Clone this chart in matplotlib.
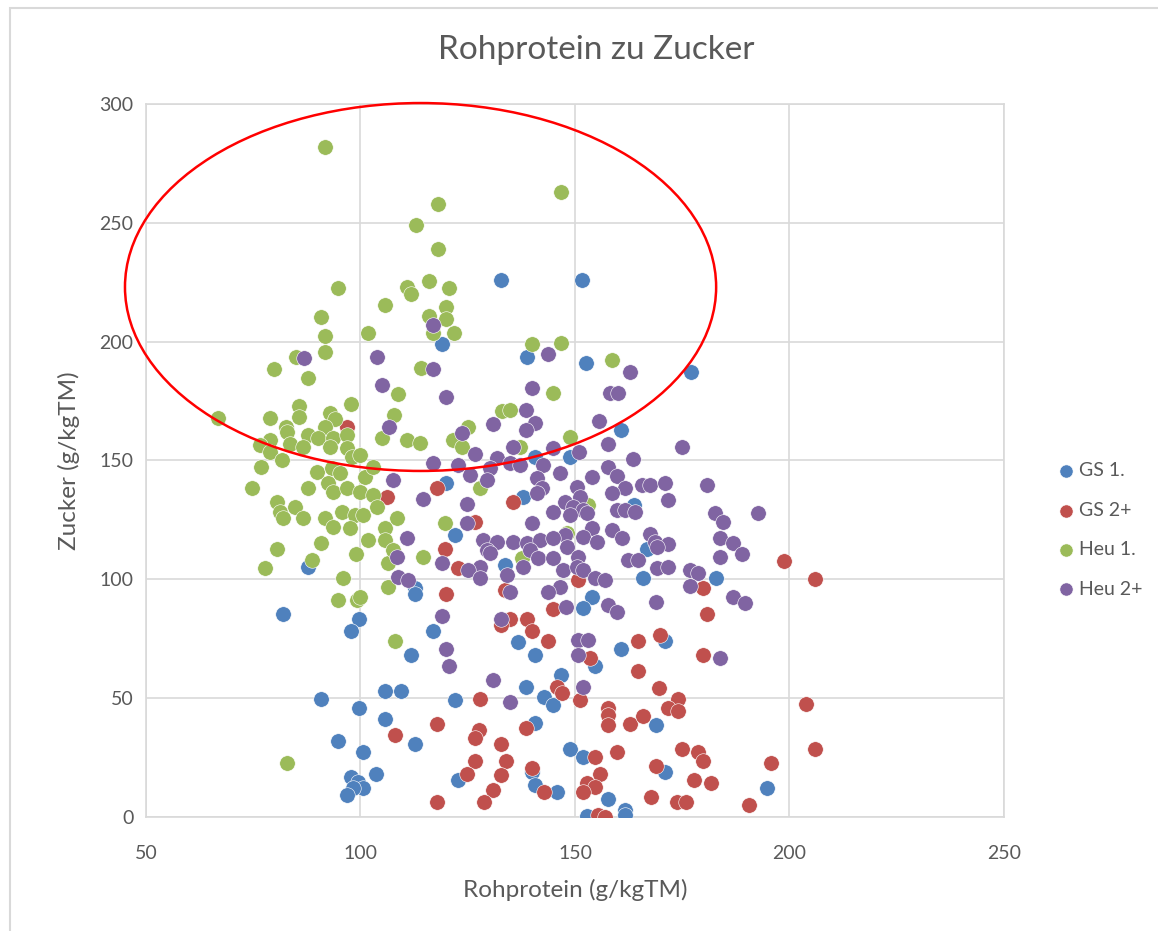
import matplotlib
matplotlib.use("Agg")
import matplotlib.pyplot as plt
from matplotlib.patches import Ellipse, Rectangle

plt.rcParams['font.family'] = ['Lato', 'DejaVu Sans']

# GS 1.
gs1_x = [132.7, 151.6, 119, 138.7, 152.5, 177, 160.7, 140.7, 148.8, 119.9, 137.9, 163.8, 122, 166.8,
         133.7, 165.8, 182.9, 87.8, 112.7, 112.7, 154, 151.9, 81.9, 99.7, 97.8, 116.9, 136.7, 171,
         160.7, 140.7, 111.8, 154.7, 146.7, 138.6, 105.7, 109.5, 90.8, 122, 142.8, 144.9, 99.7, 105.7,
         140.7, 168.9, 94.8, 112.7, 148.8, 100.6, 151.9, 171, 103.6, 97.8, 99.4, 100.6, 98.3, 96.9,
         122.7, 140, 140.7, 145.8, 194.8, 157.7, 152.8, 161.7, 161.7]
gs1_y = [226, 226, 199, 193.5, 191, 187.2, 162.8, 151.5, 151.5, 140.5, 134.6, 131.3, 118.6, 112.7,
         106, 100.5, 100.5, 105.2, 96.3, 93.8, 92.6, 87.9, 85.4, 83.3, 78.3, 78.3, 73.6, 74,
         70.7, 68.2, 68.2, 63.5, 59.7, 54.7, 53, 53.2, 49.6, 49.2, 50.5, 47.1, 45.9, 41.2,
         39.5, 38.7, 32, 30.7, 28.6, 27.3, 25.2, 18.9, 18.1, 16.8, 14.7, 12.2, 12.2, 9.3,
         15.6, 18.9, 13.5, 10.5, 12.2, 7.6, 0.4, 2.9, 1]

# GS 2+
gs2_x = [96.9, 106.2, 117.8, 135.5, 126.7, 119.7, 122.7, 150.7, 198.7, 179.8, 206, 119.9, 133.7, 144.9,
         134.8, 132.7, 138.8, 140, 143.7, 180.8, 169.8, 164.7, 179.8, 153.5, 164.7, 169.6, 145.8, 147,
         151.2, 127.9, 157.7, 157.7, 157.7, 162.8, 165.8, 174, 171.7, 174, 203.8, 117.8, 138.6, 108,
         127.6, 126.7, 132.7, 126.7, 133.9, 124.8, 132.7, 140, 142.8, 130.9, 128.8, 117.8, 159.8, 154.7,
         174.9, 178.7, 179.8, 168.9, 195.7, 155.8, 152.8, 154.7, 151.9, 177.7, 181.7, 167.7, 173.8, 175.9,
         190.6, 155.4, 157, 205.9]
gs2_y = [164, 134.6, 138.4, 132.5, 124.1, 112.7, 104.8, 99.7, 107.7, 96.3, 100, 93.8, 95.5, 87.5,
         83.3, 80.8, 83.3, 78.3, 74, 85.4, 76.6, 74, 68.2, 66.9, 61.4, 54.3, 54.7, 52.2,
         49.2, 49.6, 45.9, 42.9, 38.7, 39.1, 42.5, 49.6, 45.9, 44.6, 47.5, 39.1, 37.4, 34.5,
         36.6, 33.2, 30.7, 23.6, 23.6, 18.1, 17.7, 20.6, 10.5, 11.4, 6.3, 6.3, 27.3, 25.2,
         28.6, 27.3, 23.6, 21.5, 22.7, 18.1, 14.3, 12.6, 10.5, 15.6, 14.3, 8.4, 6.3, 6.3,
         5, 0.8, 0, 28.5]

# Heu 1.
heu1_x = [91.7, 146.7, 118, 113, 118, 116, 94.8, 110.8, 111.8, 120.6, 105.7, 120, 116, 120,
          90.8, 117, 121.8, 91.7, 101.7, 140, 146.7, 91.7, 85, 158.6, 114.1, 79.8, 87.8, 108.7,
          144.9, 97.8, 85.7, 133, 134.8, 92.9, 107.8, 66.8, 78.9, 85.7, 94, 125.1, 82.6, 82.9,
          87.8, 91.7, 90, 93.6, 96.9, 105, 110.8, 113.9, 121.6, 123.7, 148.8, 137.2, 78.9, 76.6,
          83.6, 86.6, 92.9, 96.9, 78.9, 81.7, 98, 99.9, 76.8, 89.9, 93.4, 95.2, 101, 102.9,
          74.7, 87.8, 92.4, 93.6, 96.9, 99.9, 102.9, 127.9, 103.8, 80.5, 84.7, 81.2, 81.9, 86.6,
          95.7, 98.7, 100.6, 91.7, 93.6, 97.6, 105.7, 108.5, 153, 119.7, 101.7, 105.7, 90.8, 80.5,
          99, 114.6, 137.6, 88.7, 77.7, 106.4, 95.9, 106.4, 94.8, 99.2, 99.9, 108, 82.9, 148.1,
          107.6]
heu1_y = [281.9, 263, 258, 249, 239, 225.5, 222.5, 223, 220, 222.5, 215.4, 214.5, 210.8, 209.5,
          210.4, 203.6, 203.6, 202.4, 203.6, 199, 199.5, 195.6, 193.5, 192.3, 188.9, 188.5, 184.7, 177.9,
          178.4, 173.7, 172.9, 170.8, 171.2, 170, 169.1, 167.9, 167.9, 168.3, 167.4, 164, 164, 162,
          160.7, 164, 159.4, 159.4, 160.7, 159.4, 158.6, 157.3, 158.6, 155.7, 159.9, 155.7, 158.6, 156.5,
          156.9, 155.7, 155.7, 155.2, 153.6, 150.2, 151.5, 152.3, 147.2, 145.1, 146.8, 144.7, 143, 147.2,
          138.4, 138.4, 140.5, 136.7, 138.4, 136.7, 135.5, 138.4, 130.4, 132.5, 130.4, 128.3, 125.8, 125.8,
          128.3, 127, 127, 125.8, 122, 121.6, 121.6, 125.8, 131.3, 123.7, 116.5, 116.5, 115.3, 112.7,
          110.6, 109.4, 109, 108.1, 104.8, 106.9, 100.5, 96.8, 91.3, 91.3, 92.6, 74, 22.7, 119.5,
          112.3]

# Heu 2+
heu2_x = [117, 86.8, 103.8, 143.7, 116.9, 162.8, 105, 140, 119.9, 158.2, 160, 138.6, 155.6, 106.6,
          130.9, 140.7, 138.6, 123.7, 157.7, 174.9, 135.5, 144.9, 150.9, 126.7, 131.8, 163.5, 116.9, 122.7,
          130.2, 134.8, 137.2, 142.5, 157.7, 146.5, 125.5, 154, 159.8, 107.6, 129.5, 141.1, 142.3, 150.5,
          161.7, 165.6, 167.5, 171, 180.8, 158.6, 141.1, 114.6, 171.7, 151.2, 124.8, 147.7, 149.5, 151.9,
          144.9, 148.8, 152.8, 159.8, 161.7, 164, 182.6, 192.7, 184.5, 124.8, 140, 154, 158.6, 147.7,
          110.8, 128.6, 131.8, 135.5, 138.8, 141.8, 144.9, 151.9, 160.9, 155.1, 167.5, 168.6, 171.7, 183.8,
          186.8, 129.5, 130.2, 139.5, 148.1, 169.1, 188.9, 108.5, 141.4, 144.9, 150.7, 183.8, 162.4, 164.7,
          119, 137.9, 127.9, 125.1, 147.2, 150.5, 151.9, 169.1, 171.7, 176.8, 178.7, 134.1, 127.9, 108.7,
          111.1, 154.7, 157, 146.5, 176.8, 134.8, 143.7, 186.8, 189.6, 157.7, 159.8, 168.9, 147.9, 119,
          132.7, 119.9, 120.6, 150.7, 153, 150.7, 183.8, 130.9, 151.9, 134.8]
heu2_y = [207, 193, 193.5, 194.8, 188.5, 187.2, 181.7, 180.5, 176.7, 178.4, 178.4, 171.2, 166.6, 164,
          165.3, 165.8, 162.8, 161.5, 156.9, 155.7, 155.7, 155.2, 153.6, 152.7, 151, 150.6, 148.9, 148.1,
          146.8, 148.9, 148.1, 148.1, 147.2, 144.7, 143.9, 143, 143.5, 141.8, 141.8, 142.6, 138.4, 138.8,
          138.4, 139.7, 139.7, 140.5, 139.7, 136.3, 136.3, 133.8, 133.4, 134.6, 131.7, 132.5, 130.4, 129.2,
          128.3, 127, 127.9, 129.2, 129.2, 128.3, 127.9, 127.9, 124.1, 123.7, 123.7, 121.6, 120.7, 118.6,
          117.4, 116.5, 115.7, 115.7, 115.3, 116.5, 117.4, 117.8, 117.4, 115.7, 119.1, 115.7, 114.9, 117.4,
          115.3, 112.3, 111.1, 112.3, 113.6, 113.6, 110.6, 109.4, 109, 109, 109.4, 109.4, 108.1, 108.1,
          106.9, 105.2, 105.2, 103.9, 103.9, 105.2, 103.9, 104.8, 105.2, 103.9, 102.6, 101.8, 100.5, 101,
          99.7, 100.5, 99.7, 96.8, 97.4, 94.7, 94.7, 92.6, 90, 89.2, 86.2, 90.4, 88.3, 84.6,
          83.3, 70.7, 63.5, 74.5, 74.5, 68.2, 66.9, 57.6, 54.7, 48.4]

series = [
    ("GS 1.", gs1_x, gs1_y, "#4F81BD"),
    ("GS 2+", gs2_x, gs2_y, "#C0504D"),
    ("Heu 1.", heu1_x, heu1_y, "#9BBB59"),
    ("Heu 2+", heu2_x, heu2_y, "#8064A2"),
]

text_col = "#595959"
grid_col = "#d9d9d9"

fig = plt.figure(figsize=(11.58, 9.31), dpi=100)
ax = fig.add_axes([146/1158, 1 - 817/931, (1004-146)/1158, (817-104)/931])

for name, xs, ys, col in series:
    ax.scatter(xs, ys, s=125, color=col, edgecolors="white", linewidths=0.4, label=name, zorder=3)

ax.set_xlim(50, 250)
ax.set_ylim(0, 300)
ax.set_xticks([50, 100, 150, 200, 250])
ax.set_yticks([0, 50, 100, 150, 200, 250, 300])
ax.grid(True, color=grid_col, linewidth=1.2, zorder=0)
ax.set_axisbelow(True)
for sp in ax.spines.values():
    sp.set_color(grid_col)
    sp.set_linewidth(1.2)
ax.tick_params(length=0, labelsize=14, colors=text_col)
ax.tick_params(axis='x', pad=20)
ax.tick_params(axis='y', pad=9)

ax.set_xlabel("Rohprotein (g/kgTM)", fontsize=17.5, color=text_col, labelpad=12)
ax.set_ylabel("Zucker (g/kgTM)", fontsize=17.5, color=text_col, labelpad=14)

fig.text(596/1158, 1 - 50/931, "Rohprotein zu Zucker", fontsize=24, color=text_col,
         ha="center", va="center")

# red ellipse overlay
ell = Ellipse((114, 223), 137.8, 154.8, fill=False, edgecolor="#FF0000", linewidth=1.8,
              clip_on=False, zorder=5)
ax.add_patch(ell)

leg = ax.legend(loc="center left", bbox_to_anchor=(1058/1158, 1 - 530/931),
                bbox_transform=fig.transFigure, frameon=False, fontsize=14,
                handlelength=0.8, handletextpad=0.3, labelspacing=1.15,
                markerscale=0.85, borderpad=0, borderaxespad=0)
for t in leg.get_texts():
    t.set_color(text_col)

fig.patches.append(Rectangle((10/1158, -0.05), 1.2, 1 - 8/931 + 0.05, transform=fig.transFigure,
                             fill=False, edgecolor=grid_col, linewidth=1.5))

fig.savefig("out.png", dpi=100)
